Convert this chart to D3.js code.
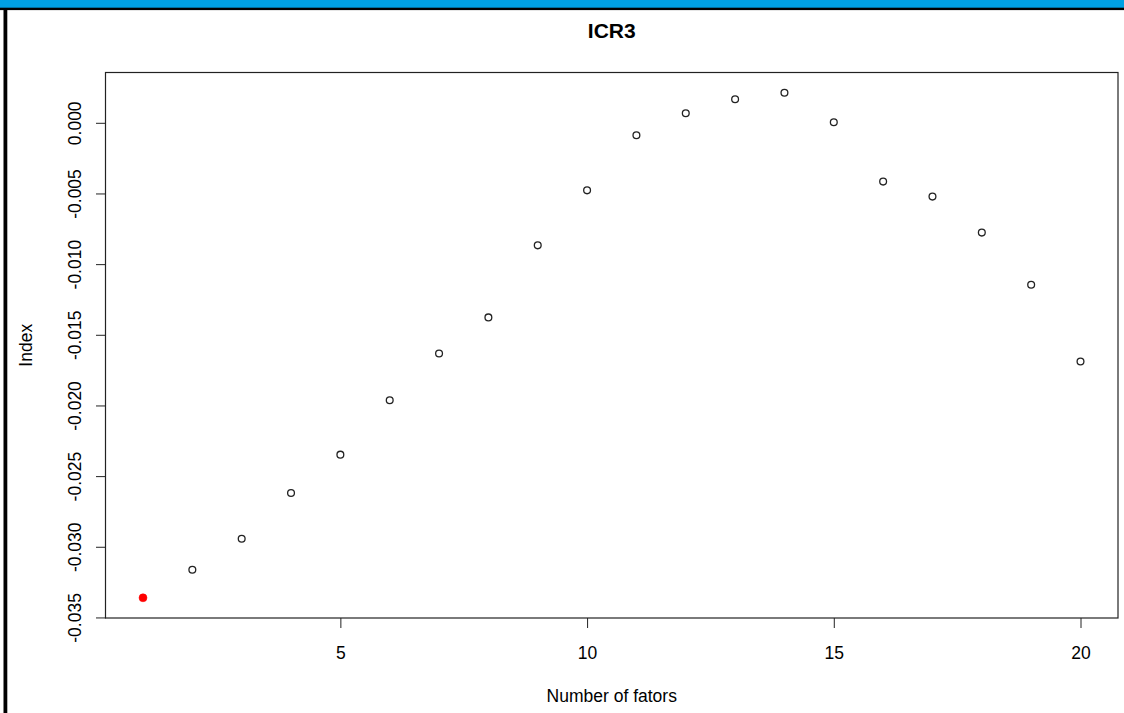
<!DOCTYPE html>
<html>
<head>
<meta charset="utf-8">
<script src="https://cdn.jsdelivr.net/npm/d3@7"></script>
<style>
  body { margin: 0; background: #fff; }
  svg { display: block; }
  text { font-family: "Liberation Sans", Arial, sans-serif; }
</style>
</head>
<body>
<svg id="chart" width="1124" height="713"></svg>
<script>
// ---- data ----
const factors = [1, 2, 3, 4, 5, 6, 7, 8, 9, 10, 11, 12, 13, 14, 15, 16, 17, 18, 19, 20];
const values = [-0.03361, -0.03163, -0.02943, -0.02619, -0.02348, -0.01963, -0.01632, -0.01377,
                -0.00867, -0.00478, -0.00088, 0.00068, 0.00167, 0.00213, 0.00004, -0.00416,
                -0.00522, -0.00777, -0.01146, -0.01689];
const xTicks = [5, 10, 15, 20];
const xTickLabels = ["5", "10", "15", "20"];
const yTicks = [0, -0.005, -0.010, -0.015, -0.020, -0.025, -0.030, -0.035];
const yTickLabels = ["0.000", "-0.005", "-0.010", "-0.015", "-0.020", "-0.025", "-0.030", "-0.035"];
const chartTitle = "ICR3";
const xTitle = "Number of fators";
const yTitle = "Index";

// ---- layout ----
const W = 1124, H = 713;
const L = 105.5, R = 1118, T = 72.5, B = 618;
const svg = d3.select("#chart");

// window frame
svg.append("rect").attr("x", 0).attr("y", 0).attr("width", W).attr("height", 8).attr("fill", "#00a0e3");
svg.append("rect").attr("x", 0).attr("y", 7.7).attr("width", W).attr("height", 2.4).attr("fill", "#000");
svg.append("rect").attr("x", 3.5).attr("y", 8).attr("width", 3.8).attr("height", H - 8).attr("fill", "#000");

function rPad(ext) { const d = ext[1] - ext[0]; return [ext[0] - 0.04 * d, ext[1] + 0.04 * d]; }
const x = d3.scaleLinear().domain(rPad(d3.extent(factors))).range([L, R]);
const y = d3.scaleLinear().domain(rPad(d3.extent(values))).range([B, T]);

// y axis
const gy = svg.append("g").attr("transform", `translate(${Math.round(L)},0)`)
  .call(d3.axisLeft(y).tickValues(yTicks).tickSize(10).tickFormat((d, i) => yTickLabels[i]));
gy.select(".domain").remove();
gy.selectAll(".tick line").attr("stroke", "#222");
gy.selectAll(".tick text")
  .attr("x", 0).attr("y", -25).attr("dy", 0)
  .attr("transform", "rotate(-90)")
  .attr("text-anchor", "middle")
  .attr("fill", "#000")
  .style("font-size", "17.5px")
  .style("font-family", '"Liberation Sans", Arial, sans-serif');

// x axis
const gx = svg.append("g").attr("transform", `translate(0,${Math.round(B)})`)
  .call(d3.axisBottom(x).tickValues(xTicks).tickSize(10).tickFormat((d, i) => xTickLabels[i]));
gx.select(".domain").remove();
gx.selectAll(".tick line").attr("stroke", "#222");
gx.selectAll(".tick text")
  .attr("y", 41).attr("dy", 0)
  .attr("fill", "#000")
  .style("font-size", "17.5px")
  .style("font-family", '"Liberation Sans", Arial, sans-serif');

// plot box
svg.append("rect")
  .attr("x", L).attr("y", T).attr("width", R - L).attr("height", B - T)
  .attr("fill", "none").attr("stroke", "#222").attr("stroke-width", 1.2);

// points
const best = d3.minIndex(values);
svg.append("g").selectAll("circle")
  .data(factors.map((f, i) => ({ f, v: values[i], i })))
  .join("circle")
  .attr("cx", d => x(d.f))
  .attr("cy", d => y(d.v))
  .attr("r", d => d.i === best ? 4 : 3.4)
  .attr("fill", d => d.i === best ? "#ff0000" : "none")
  .attr("stroke", d => d.i === best ? "#ff0000" : "#222")
  .attr("stroke-width", d => d.i === best ? 0.5 : 1.3);

// titles
svg.append("text").attr("x", (L + R) / 2).attr("y", 38)
  .attr("text-anchor", "middle").style("font-size", "21px").style("font-weight", "bold")
  .text(chartTitle);
svg.append("text").attr("x", (L + R) / 2).attr("y", 702)
  .attr("text-anchor", "middle").style("font-size", "17.5px")
  .text(xTitle);
svg.append("text")
  .attr("transform", `translate(32,${(T + B) / 2}) rotate(-90)`)
  .attr("text-anchor", "middle").style("font-size", "17.5px")
  .text(yTitle);
</script>
</body>
</html>
